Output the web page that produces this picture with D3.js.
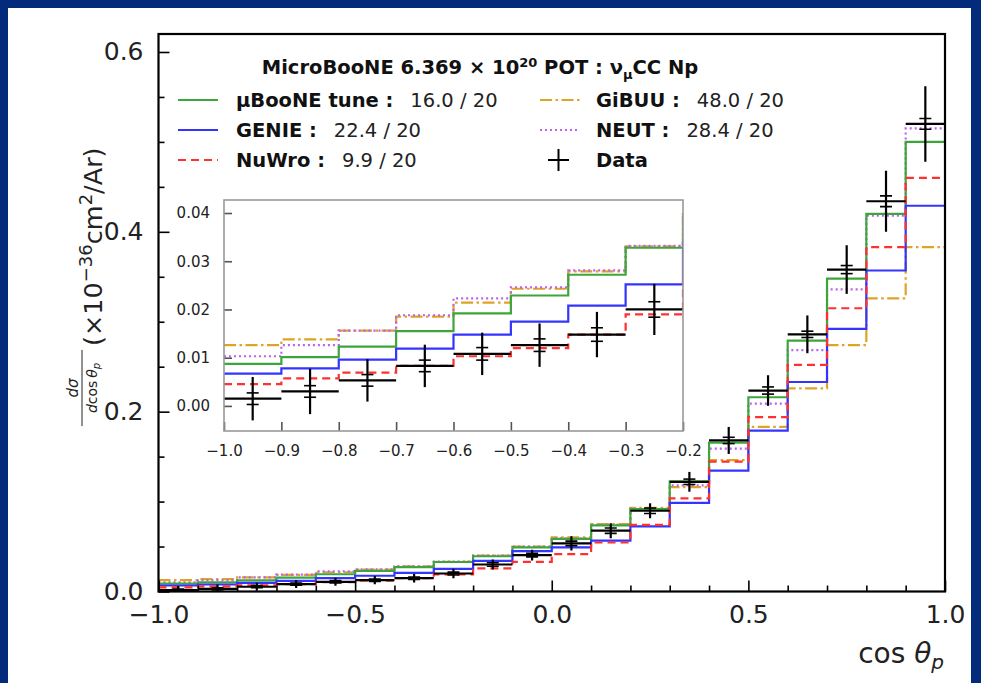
<!DOCTYPE html>
<html>
<head>
<meta charset="utf-8">
<script src="https://cdn.jsdelivr.net/npm/d3@7"></script>
<style>
  body { margin: 0; background: #032b7b; }
  svg { display: block; font-family: "DejaVu Sans", sans-serif; }
</style>
</head>
<body>
<div id="main"></div>
<script>
// bin edges of cos(theta_p)
const binEdges = [-1.0, -0.9, -0.8, -0.7, -0.6, -0.5, -0.4, -0.3, -0.2, -0.1, 0.0,
                  0.1, 0.2, 0.3, 0.4, 0.5, 0.6, 0.7, 0.8, 0.9, 1.0];

// cross sections per bin (x10^-36 cm2/Ar)
const tuneVals  = [0.0087, 0.0101, 0.0123, 0.0155, 0.0192, 0.0229, 0.0272, 0.0328, 0.0392, 0.0490,
                   0.0585, 0.0735, 0.0915, 0.1225, 0.1655, 0.216, 0.279, 0.348, 0.420, 0.500];
const genieVals = [0.0067, 0.0078, 0.0096, 0.0119, 0.0148, 0.0175, 0.0208, 0.0252, 0.0340, 0.0450,
                   0.0490, 0.0565, 0.0725, 0.0985, 0.1345, 0.179, 0.233, 0.292, 0.357, 0.429];
const nuwroVals = [0.0045, 0.0057, 0.0069, 0.0083, 0.0103, 0.0120, 0.0148, 0.0190, 0.0258, 0.0330,
                   0.0415, 0.0545, 0.0740, 0.1035, 0.1445, 0.194, 0.252, 0.315, 0.383, 0.460];
const gibuuVals = [0.0126, 0.0138, 0.0156, 0.0185, 0.0214, 0.0243, 0.0279, 0.0331, 0.0398, 0.0498,
                   0.0602, 0.0750, 0.0930, 0.1160, 0.146, 0.183, 0.226, 0.274, 0.326, 0.383];
const neutVals  = [0.0103, 0.0126, 0.0156, 0.0188, 0.0223, 0.0246, 0.0281, 0.0332, 0.0398, 0.0498,
                   0.0590, 0.0740, 0.0920, 0.1180, 0.159, 0.209, 0.2685, 0.336, 0.418, 0.515];
const dataVals  = [0.0015, 0.0030, 0.0053, 0.0083, 0.0108, 0.0126, 0.0148, 0.0200, 0.0300, 0.0405,
                   0.0535, 0.0676, 0.0898, 0.122, 0.168, 0.2235, 0.286, 0.358, 0.434, 0.520];
const dataTotErr = [0.0045, 0.0047, 0.0044, 0.0044, 0.0044, 0.0045, 0.0047, 0.0053, 0.0055, 0.0060,
                    0.0080, 0.0083, 0.0083, 0.011, 0.015, 0.017, 0.021, 0.027, 0.034, 0.042];
const dataStatErr = [0.0012, 0.0012, 0.0012, 0.0012, 0.0013, 0.0013, 0.0014, 0.0016, 0.0020, 0.0020,
                     0.0025, 0.0030, 0.0030, 0.0030, 0.0035, 0.0040, 0.0035, 0.0045, 0.0060, 0.0060];

const legendLabels = ['\u00b5BooNE tune', 'GENIE', 'NuWro', 'GiBUU', 'NEUT'];
const chi2Labels = ['16.0 / 20', '22.4 / 20', '9.9 / 20', '48.0 / 20', '28.4 / 20'];

// main ticks
const yMajor = [0.0, 0.2, 0.4, 0.6];
const yMinor = [0.05, 0.1, 0.15, 0.25, 0.3, 0.35, 0.45, 0.5, 0.55];
const xMajor = [-1.0, -0.5, 0.0, 0.5, 1.0];
const xMinor = [-0.9, -0.8, -0.7, -0.6, -0.4, -0.3, -0.2, -0.1, 0.1, 0.2, 0.3, 0.4, 0.6, 0.7, 0.8, 0.9];
// inset ticks
const insetYTicks = [0.00, 0.01, 0.02, 0.03, 0.04];
const insetXTicks = [-1.0, -0.9, -0.8, -0.7, -0.6, -0.5, -0.4, -0.3, -0.2];

const W = 981, H = 683;

const svg = d3.select('div#main').append('svg').attr('width', W).attr('height', H);
svg.append('rect').attr('x', 8).attr('y', 8).attr('width', 963).attr('height', H - 8).attr('fill', '#fff');

const x = d3.scaleLinear().domain([-1, 1]).range([158.5, 945]);
const y = d3.scaleLinear().domain([0, 0.62]).range([591.5, 34]);

const series = [
  { vals: tuneVals,  color: '#3ca63c', dash: null },
  { vals: genieVals, color: '#3434ff', dash: null },
  { vals: nuwroVals, color: '#ff3030', dash: '8,5' },
  { vals: gibuuVals, color: '#dea425', dash: '12,3.5,2.5,3.5' },
  { vals: neutVals,  color: '#c05ff2', dash: '2,3' }
];
// drawing order: back to front
const drawOrder = [3, 4, 0, 1, 2];

const stepPoints = vals => vals.map((v, i) => [binEdges[i], v]).concat([[binEdges[vals.length], vals[vals.length - 1]]]);

function drawHists(g, xs, ys) {
  const line = d3.line().x(d => xs(d[0])).y(d => ys(d[1])).curve(d3.curveStepAfter);
  drawOrder.forEach(k => {
    const s = series[k];
    g.append('path').attr('d', line(stepPoints(s.vals)))
      .attr('fill', 'none').attr('stroke', s.color).attr('stroke-width', 2.2)
      .attr('stroke-dasharray', s.dash);
  });
}

function drawData(g, xs, ys) {
  dataVals.forEach((v, i) => {
    const x0 = xs(binEdges[i]), x1 = xs(binEdges[i + 1]), xc = (x0 + x1) / 2;
    g.append('line').attr('x1', x0).attr('x2', x1).attr('y1', ys(v)).attr('y2', ys(v))
      .attr('stroke', '#000').attr('stroke-width', 2.2);
    g.append('line').attr('x1', xc).attr('x2', xc)
      .attr('y1', ys(v - dataTotErr[i])).attr('y2', ys(v + dataTotErr[i]))
      .attr('stroke', '#000').attr('stroke-width', 2.2);
    [v - dataStatErr[i], v + dataStatErr[i]].forEach(e => {
      g.append('line').attr('x1', xc - 6).attr('x2', xc + 6).attr('y1', ys(e)).attr('y2', ys(e))
        .attr('stroke', '#000').attr('stroke-width', 1.6);
    });
  });
}

// clip for main plot
svg.append('clipPath').attr('id', 'clipMain').append('rect')
  .attr('x', x(-1)).attr('y', y(0.62)).attr('width', x(1) - x(-1)).attr('height', y(0) - y(0.62));
const plot = svg.append('g').attr('clip-path', 'url(#clipMain)');
drawHists(plot, x, y);
drawData(plot, x, y);

// main axes, ticks pointing inward
const fmt1 = d3.format('.1f');
const styleAxis = (g, size, color) => {
  g.select('.domain').remove();
  g.selectAll('.tick line').attr('stroke', color).attr('stroke-width', 1.6);
  g.selectAll('.tick text').attr('fill', '#222').style('font-size', size + 'px')
    .style('font-family', '"DejaVu Sans", sans-serif');
};
svg.append('g').attr('transform', `translate(${x(-1)},0)`)
  .call(d3.axisLeft(y).tickValues(yMajor).tickFormat(fmt1).tickSize(-11).tickPadding(15))
  .call(g => styleAxis(g, 25, '#000'));
svg.append('g').attr('transform', `translate(${x(-1)},0)`)
  .call(d3.axisLeft(y).tickValues(yMinor).tickFormat('').tickSize(-6))
  .call(g => styleAxis(g, 25, '#000'));
svg.append('g').attr('transform', `translate(0,${y(0)})`)
  .call(d3.axisBottom(x).tickValues(xMajor).tickFormat(fmt1).tickSize(-11).tickPadding(14))
  .call(g => styleAxis(g, 25, '#000'));
svg.append('g').attr('transform', `translate(0,${y(0)})`)
  .call(d3.axisBottom(x).tickValues(xMinor).tickFormat('').tickSize(-6))
  .call(g => styleAxis(g, 25, '#000'));

svg.append('rect').attr('x', x(-1)).attr('y', y(0.62)).attr('width', x(1) - x(-1)).attr('height', y(0) - y(0.62))
  .attr('fill', 'none').attr('stroke', '#000').attr('stroke-width', 2.2);

// inset
const xi = d3.scaleLinear().domain([-1, -0.2]).range([224, 683]);
const yi = d3.scaleLinear().domain([-0.0052, 0.0427]).range([431, 200]);
svg.append('rect').attr('x', 224).attr('y', 200).attr('width', 459).attr('height', 231).attr('fill', '#fff');
svg.append('clipPath').attr('id', 'clipInset').append('rect')
  .attr('x', 224).attr('y', 200).attr('width', 459).attr('height', 231);
const inset = svg.append('g').attr('clip-path', 'url(#clipInset)');
drawHists(inset, xi, yi);
drawData(inset, xi, yi);

svg.append('g').attr('transform', 'translate(224,0)')
  .call(d3.axisLeft(yi).tickValues(insetYTicks).tickFormat(d3.format('.2f')).tickSize(-8).tickPadding(14))
  .call(g => styleAxis(g, 15, '#555'));
svg.append('g').attr('transform', 'translate(0,431)')
  .call(d3.axisBottom(xi).tickValues(insetXTicks).tickFormat(fmt1).tickSize(-9).tickPadding(14))
  .call(g => styleAxis(g, 15, '#555'));
svg.append('rect').attr('x', 224).attr('y', 200).attr('width', 459).attr('height', 231)
  .attr('fill', 'none').attr('stroke', '#999').attr('stroke-width', 1.6);

// legend
const title = svg.append('text').attr('x', 480).attr('y', 74).attr('text-anchor', 'middle')
  .style('font-weight', 'bold').style('font-size', '19.5px').attr('fill', '#111');
title.append('tspan').text('MicroBooNE 6.369 \u00d7 10');
title.append('tspan').attr('dy', -7).style('font-size', '13px').text('20');
title.append('tspan').attr('dy', 7).text(' POT : \u03bd');
title.append('tspan').attr('dy', 5).style('font-size', '13px').text('\u03bc');
title.append('tspan').attr('dy', -5).text('CC Np');

const legPos = [
  { lx: 178, tx: 236, y: 100 }, { lx: 178, tx: 236, y: 130 }, { lx: 178, tx: 236, y: 160 },
  { lx: 540, tx: 596, y: 100 }, { lx: 540, tx: 596, y: 130 }
];
legPos.forEach((p, k) => {
  const s = series[k];
  svg.append('line').attr('x1', p.lx).attr('x2', p.lx + 40).attr('y1', p.y).attr('y2', p.y)
    .attr('stroke', s.color).attr('stroke-width', 2.2).attr('stroke-dasharray', s.dash);
  const t = svg.append('text').attr('x', p.tx).attr('y', p.y + 7).style('font-size', '19.5px').attr('fill', '#222');
  t.append('tspan').style('font-weight', 'bold').attr('fill', '#111').text(legendLabels[k] + ' :');
  t.append('tspan').attr('dx', 17).text(chi2Labels[k]);
});
// data legend marker
svg.append('line').attr('x1', 548).attr('x2', 569).attr('y1', 160).attr('y2', 160).attr('stroke', '#000').attr('stroke-width', 2);
svg.append('line').attr('x1', 558.5).attr('x2', 558.5).attr('y1', 149).attr('y2', 171).attr('stroke', '#000').attr('stroke-width', 2);
svg.append('text').attr('x', 596).attr('y', 167).style('font-size', '19.5px').style('font-weight', 'bold')
  .attr('fill', '#111').text('Data');

// y label
const yl = svg.append('g').attr('transform', 'translate(89,426) rotate(-90)');
yl.append('line').attr('x1', 0).attr('x2', 76).attr('y1', -7).attr('y2', -7).attr('stroke', '#222').attr('stroke-width', 1);
yl.append('text').attr('x', 38).attr('y', -11).attr('text-anchor', 'middle')
  .style('font-size', '15px').style('font-style', 'italic').attr('fill', '#222').text('d\u03c3');
const den = yl.append('text').attr('x', 38).attr('y', 8).attr('text-anchor', 'middle')
  .style('font-size', '14px').attr('fill', '#222');
den.append('tspan').style('font-style', 'italic').text('d');
den.append('tspan').text('cos\u2009');
den.append('tspan').style('font-style', 'italic').text('\u03b8');
den.append('tspan').attr('dy', 3).style('font-size', '10px').style('font-style', 'italic').text('p');
const yt = yl.append('text').attr('x', 80).attr('y', 13).style('font-size', '25.5px').attr('fill', '#222');
yt.append('tspan').text('(\u00d710');
yt.append('tspan').attr('dy', -10).style('font-size', '18px').text('\u221236');
yt.append('tspan').attr('dy', 10).text('cm');
yt.append('tspan').attr('dy', -10).style('font-size', '18px').text('2');
yt.append('tspan').attr('dy', 10).text('/Ar)');

// x label
const xl = svg.append('text').attr('x', 944).attr('y', 663).attr('text-anchor', 'end')
  .style('font-size', '28px').attr('fill', '#222');
xl.append('tspan').text('cos ');
xl.append('tspan').style('font-style', 'italic').text('\u03b8');
xl.append('tspan').attr('dy', 6).style('font-size', '20px').style('font-style', 'italic').text('p');
</script>
</body>
</html>
